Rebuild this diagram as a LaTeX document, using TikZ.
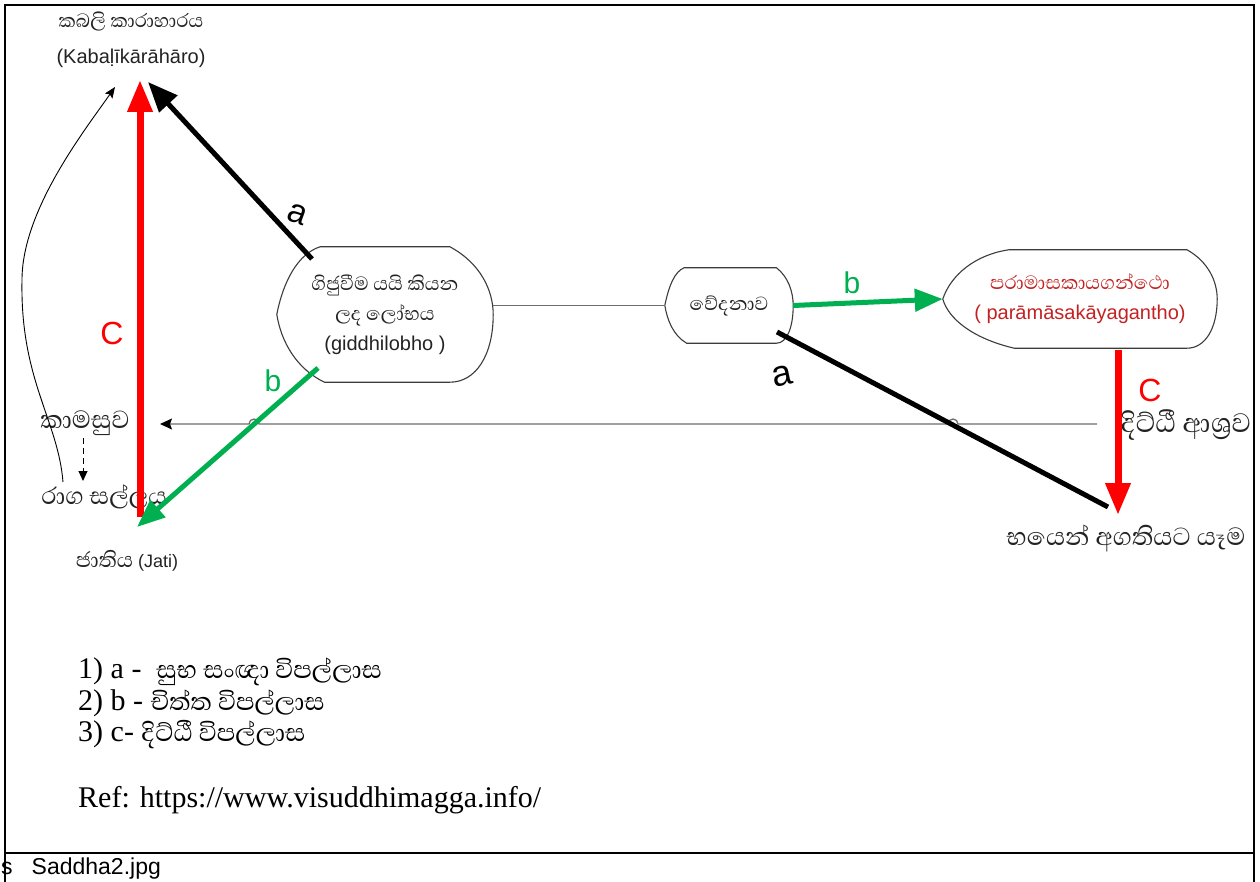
\documentclass[tikz,border=0pt]{standalone}
\usepackage{fontspec}
\setmainfont{Liberation Sans}
\newfontfamily\timesf{Liberation Serif}
\newfontfamily\sil[Script=Sinhala,Scale=1.22]{Abhaya Libre}
\usetikzlibrary{arrows.meta,calc}

\definecolor{grn}{RGB}{0,176,80}
\definecolor{ared}{RGB}{255,0,0}
\definecolor{tred}{RGB}{196,34,34}
\definecolor{ink}{RGB}{35,35,35}
\definecolor{outline}{RGB}{60,60,60}
\definecolor{wire}{RGB}{110,110,110}

\newcommand\fs[2]{\fontsize{#1}{#2}\selectfont}

% outline of a "display" box: pointed left end, rounded right end
% #1 node name, #2 left inset, #3 right inset (fractions of the width)
\newcommand\leafoutline[3]{%
  \draw[leafline] let \p1=(#1.north west), \p2=(#1.south east), \p3=(#1.west),
    \n1={\x2-\x1}, \n2={\y1-\y2} in
    ({\x1+#2*\n1},\y1) -- ({\x2-#3*\n1},\y1)
    .. controls ({\x2-0.3*#3*\n1},{\y1-0.12*\n2}) and (\x2,{\y3+0.18*\n2}) .. (\x2,\y3)
    .. controls (\x2,{\y3-0.3*\n2}) and ({\x2-0.4*#3*\n1},\y2) .. ({\x2-#3*\n1},\y2)
    -- ({\x1+#2*\n1+0.02*\n1},\y2)
    .. controls ({\x1+0.45*#2*\n1},{\y2+0.1*\n2}) and ({\x1+0.02*\n1},{\y3-0.2*\n2}) .. (\x1,\y3)
    .. controls ({\x1+0.03*\n1},{\y3+0.25*\n2}) and ({\x1+0.5*#2*\n1},{\y1-0.05*\n2}) .. cycle;}

\begin{document}
\begin{tikzpicture}[x=1pt,y=-1pt,
  leafline/.style={draw=outline,line width=1.1pt},
  leaf/.style={inner sep=0pt,align=center,text=ink,font=\fs{20}{30}},
  lbl/.style={inner sep=0pt,text=ink},
  frame/.style={draw=black,line width=2pt},
  bigred/.style={draw=ared,line width=7pt,-{Triangle[length=32pt,width=24pt]}},
  bigblack/.style={draw=black,line width=5pt,-{Triangle[length=30pt,width=24pt]}},
  blackline/.style={draw=black,line width=5pt},
  biggreen/.style={draw=grn,line width=5pt,-{Triangle[length=28pt,width=22pt]}},
  wirearrow/.style={draw=wire,line width=1.3pt,-{Stealth[length=12pt,width=11pt,inset=2pt,color=black]}},
  wireline/.style={draw=wire,line width=1.1pt},
  curvearrow/.style={draw=black,line width=0.9pt,-{Stealth[length=11pt,width=9pt,inset=2pt]}},
  dasharrow/.style={draw=black,line width=1pt,dash pattern=on 6pt off 4pt,-{Triangle[length=10pt,width=9pt]}},
  letter/.style={inner sep=0pt,font=\fs{30}{30}}
]
\useasboundingbox (0,0) rectangle (1260,882);
\fill[white] (0,0) rectangle (1260,882);

% frame and caption row
\draw[frame] (5,882) -- (5,5) -- (1254,5) -- (1254,882);
\draw[frame] (5,853) -- (1254,853);
\node[lbl,anchor=west,text=black,font=\fs{23}{23}] (cap) at (1,869) {s\hspace{19pt}Saddha2.jpg};

% boxes
\node[leaf,minimum width=216pt,minimum height=135pt] (gid) at (385,314.5)
  {{\sil ගිජුවීම යයි කියන}\\{\sil ලද ලෝභය}\\(giddhilobho )};
\node[leaf,minimum width=128pt,minimum height=75pt] (ved) at (729,305.5)
  {{\sil වේදනාව}};
\node[leaf,minimum width=274pt,minimum height=98pt,text=tred] (par) at (1080,299)
  {{\sil පරාමාසකායගන්ථො}\\( parāmāsakāyagantho)};
\leafoutline{gid}{0.2}{0.2}
\leafoutline{ved}{0.15}{0.13}
\leafoutline{par}{0.24}{0.11}

% free labels
\node[lbl,align=center,font=\fs{20}{36}] (kab) at (131,40)
  {{\sil කබලි කාරාහාරය}\\(Kabaḷīkārāhāro)};
\node[lbl,font=\fs{26}{26}] (kam) at (85,423) {\sil කාමසුව};
\node[lbl,font=\fs{25}{25}] (rag) at (104,497) {\sil රාග සල්ලය};
\node[lbl,font=\fs{18}{18}] (jat) at (127,561) {{\fs{22}{22}\sil ජාතිය} (Jati)};
\node[lbl,font=\fs{28}{28}] (dit) at (1186,425) {\sil දිට්ඨී ආශ්‍රව};
\node[lbl,font=\fs{26}{26}] (bha) at (1126,538) {\sil භයෙන් අගතියට යෑම};

% connector end points
\coordinate (kabR) at (140,80);
\coordinate (kabA) at (148,82);
\coordinate (kabT) at (115,87);
\coordinate (cBot) at (140,517);
\coordinate (gidA) at (312,259);
\coordinate (gidB) at (318,368);
\coordinate (bTip) at (137,527);
\coordinate (vedA) at (777,332);
\coordinate (aEnd) at (1108,507);
\coordinate (parC) at (1118,350);
\coordinate (cTip) at (1118,515);
\coordinate (ragC) at (63,482);
\coordinate (kamD) at (83,438);
\coordinate (ragD) at (83,481);
\coordinate (wireR) at (1097,424);
\coordinate (wireL) at (160,424);
\coordinate (hopG) at (254,424);
\coordinate (hopB) at (953,424);

% thin connectors
\draw[wireline] (gid.east |- ved.west) -- (ved.west);
\draw[wirearrow] (wireR) -- ($(hopB)+(5,0)$) arc[start angle=0,end angle=180,radius=5pt]
  -- ($(hopG)+(5,0)$) arc[start angle=0,end angle=180,radius=5pt] -- (wireL);
\draw[curvearrow] (ragC) .. controls (58,420) and (20,380) .. (22,280)
  .. controls (22,210) and (85,130) .. (kabT);
\draw[dasharrow] (kamD) -- (ragD);

% thick connectors
\draw[bigred] (cBot) -- (kabR);
\draw[bigblack] (gidA) -- (kabA);
\draw[biggreen] (gidB) -- (bTip);
\draw[biggreen] (ved.east) -- (par.west);
\draw[blackline] (vedA) -- (aEnd);
\draw[bigred] (parC) -- (cTip);

% connector letters
\node[letter,font=\fs{34}{34},rotate=-20] (la1) at (297,214) {a};
\node[letter,font=\fs{36}{36},rotate=12] (la2) at (782,376) {a};
\node[letter,text=grn] (lb1) at (273,381) {b};
\node[letter,text=grn] (lb2) at (852,283) {b};
\node[letter,text=ared,font=\fs{32}{32}] (lc1) at (112,333) {C};
\node[letter,text=ared,font=\fs{32}{32}] (lc2) at (1150,390) {C};

% key
\node[lbl,anchor=west,text=black,font=\fs{30}{30}] (k1) at (78,672)
  {{\timesf 1) a -\ \ }{\fs{26}{30}\sil සුභ සංඥා විපල්ලාස}};
\node[lbl,anchor=west,text=black,font=\fs{30}{30}] (k2) at (78,703)
  {{\timesf 2) b - }{\fs{26}{30}\sil චිත්ත විපල්ලාස}};
\node[lbl,anchor=west,text=black,font=\fs{30}{30}] (k3) at (78,735)
  {{\timesf 3) c- }{\fs{26}{30}\sil දිට්ඨී විපල්ලාස}};
\node[lbl,anchor=west,text=black,font=\fs{30}{30}] (ref) at (78,800)
  {\timesf Ref: https://www.visuddhimagga.info/};
\end{tikzpicture}
\end{document}
